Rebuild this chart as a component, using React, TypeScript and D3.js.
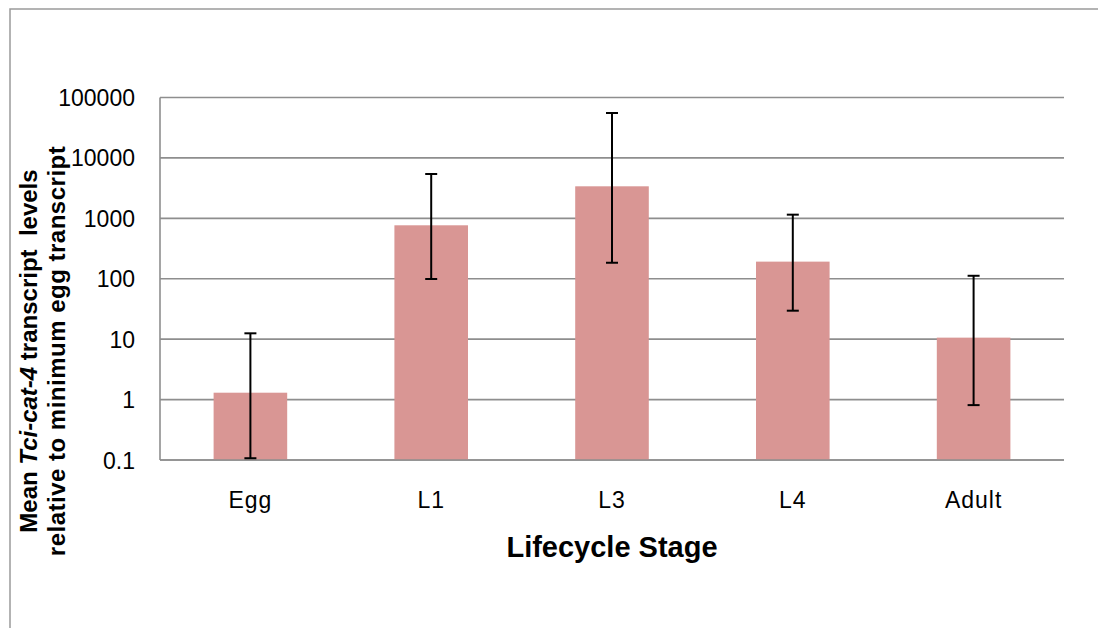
import React from "react";
import * as d3 from "d3";

const stages = ["Egg", "L1", "L3", "L4", "Adult"];
const meanLevels = [1.3, 767, 3390, 192, 10.6];
const errorUpper = [12.5, 5420, 55400, 1150, 112];
const errorLower = [0.107, 99, 184, 29.6, 0.81];
const yTicks = [0.1, 1, 10, 100, 1000, 10000, 100000];
const yTickLabels = ["0.1", "1", "10", "100", "1000", "10000", "100000"];

const W = 1098;
const H = 628;
const plot = { left: 160, right: 1064, top: 97.5, bottom: 460 };
const FONT = "'Liberation Sans', Arial, sans-serif";

export default function App() {
  const x = d3
    .scaleBand<string>()
    .domain(stages)
    .range([plot.left, plot.right])
    .paddingInner(0.593)
    .paddingOuter(0.2965);
  const y = d3.scaleLog().domain([0.1, 100000]).range([plot.bottom, plot.top]);
  const bw = x.bandwidth();
  const capW = 12;

  return (
    <svg
      width={W}
      height={H}
      style={{ position: "absolute", left: 0, top: 0, background: "#fff" }}
    >
      <rect x={10} y={9} width={W + 20} height={H + 20} fill="#fff" stroke="#9a9a9a" strokeWidth={1.5} />

      {yTicks.map((t, i) => (
        <line
          key={"g" + i}
          x1={plot.left}
          x2={plot.right}
          y1={y(t)}
          y2={y(t)}
          stroke="#8e8e8e"
          strokeWidth={1.6}
        />
      ))}
      <line x1={plot.left} x2={plot.left} y1={plot.top} y2={plot.bottom} stroke="#8e8e8e" strokeWidth={1.6} />

      {yTicks.map((t, i) => (
        <text
          key={"t" + i}
          x={135}
          y={y(t) + 8.5}
          textAnchor="end"
          fontFamily={FONT}
          fontSize={23}
          fill="#000"
        >
          {yTickLabels[i]}
        </text>
      ))}

      {stages.map((s, i) => (
        <rect
          key={"b" + i}
          x={x(s)!}
          y={y(meanLevels[i])}
          width={bw}
          height={plot.bottom - y(meanLevels[i])}
          fill="#d99694"
        />
      ))}
      <line x1={plot.left} x2={plot.right} y1={plot.bottom} y2={plot.bottom} stroke="#8e8e8e" strokeWidth={1.6} />

      {stages.map((s, i) => {
        const cx = x(s)! + bw / 2;
        return (
          <g key={"e" + i} stroke="#000" strokeWidth={2}>
            <line x1={cx} x2={cx} y1={y(errorUpper[i])} y2={y(errorLower[i])} />
            <line x1={cx - capW / 2} x2={cx + capW / 2} y1={y(errorUpper[i])} y2={y(errorUpper[i])} />
            <line x1={cx - capW / 2} x2={cx + capW / 2} y1={y(errorLower[i])} y2={y(errorLower[i])} />
          </g>
        );
      })}

      {stages.map((s, i) => (
        <text
          key={"c" + i}
          x={x(s)! + bw / 2}
          y={508}
          textAnchor="middle"
          fontFamily={FONT}
          fontSize={23}
          letterSpacing={1}
          fill="#000"
        >
          {s}
        </text>
      ))}

      <text
        x={(plot.left + plot.right) / 2}
        y={557}
        textAnchor="middle"
        fontFamily={FONT}
        fontSize={29}
        fontWeight="bold"
        fill="#000"
      >
        Lifecycle Stage
      </text>

      <text
        transform="translate(37,351) rotate(-90)"
        textAnchor="middle"
        fontFamily={FONT}
        fontSize={24}
        fontWeight="bold"
        fill="#000"
      >
        Mean <tspan fontStyle="italic">Tci-cat-4</tspan> transcript{"\u00a0 "}levels
      </text>
      <text
        transform="translate(65,351) rotate(-90)"
        textAnchor="middle"
        fontFamily={FONT}
        fontSize={24}
        letterSpacing={0.5}
        fontWeight="bold"
        fill="#000"
      >
        relative to minimum egg transcript
      </text>
    </svg>
  );
}
